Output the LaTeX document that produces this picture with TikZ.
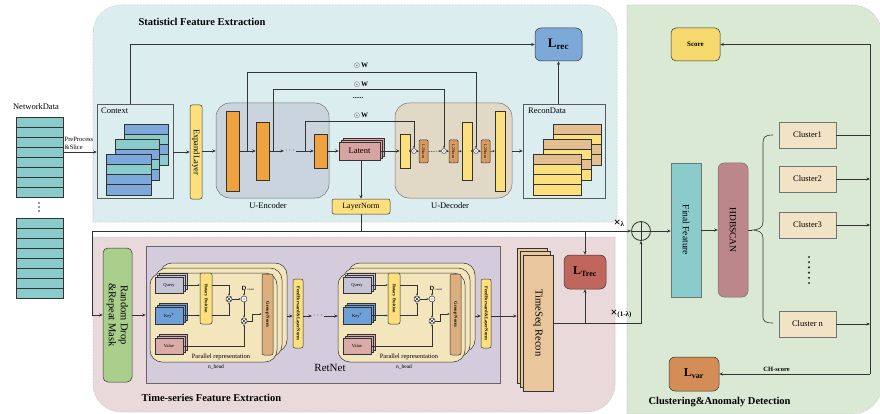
\documentclass[tikz,border=0pt]{standalone}
\usepackage{fontspec}
\setmainfont{Liberation Serif}
\usetikzlibrary{arrows.meta,calc}
\definecolor{topc}{HTML}{DCEDEF}
\definecolor{botc}{HTML}{EAD9DA}
\definecolor{rightc}{HTML}{DAE9D4}
\definecolor{encc}{HTML}{C9D4DF}
\definecolor{decc}{HTML}{E1D9C5}
\definecolor{orng}{HTML}{F0A23E}
\definecolor{yel}{HTML}{FCE07E}
\definecolor{teal1}{HTML}{8ACBCB}
\definecolor{cblue}{HTML}{7CA8DA}
\definecolor{tanc}{HTML}{E3BE90}
\definecolor{latc}{HTML}{D8A4A1}
\definecolor{retc}{HTML}{D4CBDD}
\definecolor{pcard}{HTML}{F3E5BC}
\definecolor{qc}{HTML}{C8C4D8}
\definecolor{kc}{HTML}{6E9FD6}
\definecolor{vc}{HTML}{D9ABA9}
\definecolor{gnc}{HTML}{DDAF7E}
\definecolor{l2c}{HTML}{D89A60}
\definecolor{tsc}{HTML}{EAC69D}
\definecolor{ltc}{HTML}{C1665C}
\definecolor{lrecc}{HTML}{7DA9D9}
\definecolor{scc}{HTML}{F6D96D}
\definecolor{lvc}{HTML}{D48D56}
\definecolor{hdbc}{HTML}{BC878B}
\definecolor{clc}{HTML}{F3E3C6}
\definecolor{grn}{HTML}{AACF8C}
\definecolor{lc}{HTML}{333333}
\newcommand\myfs[2]{\fontsize{#1}{#2}\selectfont}
\newcommand\mybx[7]{\node[#2, minimum width={(#5)-(#3)}, minimum height={(#6)-(#4)}] (#1) at ({((#3)+(#5))/2},{((#4)+(#6))/2}) {#7};}
\newcommand\stackcard[4]{\foreach \clr [count=\k from 0] in {#4} {\draw[rowbox, fill=\clr] (#1,{#2+\k*10.25}) rectangle ({#1+#3},{#2+(\k+1)*10.25});}}
\newcommand\otim[3]{\node[opc, minimum size=6pt] (#1) at (#2,#3) {}; \draw[wires] (#1.north east) -- (#1.south west) (#1.north west) -- (#1.south east);}
\newcommand\odt[4]{\node[opc, minimum size=#4pt] (#1) at (#2,#3) {}; \fill[lc] (#1.center) circle (0.6);}
\tikzset{
 box/.style={draw=lc, line width=0.5pt, inner sep=0pt},
 rowbox/.style={draw=lc, line width=0.5pt},
 arr/.style={draw=lc, line width=0.6pt, -{Stealth[length=3.5pt,width=3pt]}},
 arrs/.style={draw=lc, line width=0.45pt, -{Stealth[length=2.2pt,width=2pt]}},
 wire/.style={draw=lc, line width=0.6pt},
 wires/.style={draw=lc, line width=0.45pt},
 panel/.style={draw=black!25, dash pattern=on 0.6pt off 0.9pt, line width=0.6pt},
 opc/.style={circle, draw=lc, line width=0.45pt, fill=white, inner sep=0pt},
 rtext/.style={rotate=-90, inner sep=0pt, align=center},
}
\newcommand\pblock[2]{%
\begin{scope}[xshift=#1pt]
\mybx{pb#2}{box, fill=pcard, rounded corners=12}{160}{263}{287}{352}{}
\mybx{pm#2}{box, fill=pcard, rounded corners=12}{155}{268}{282}{357}{}
\mybx{pf#2}{box, fill=pcard, rounded corners=12}{150}{273}{277}{362}{}
\draw[box, fill=qc] (159,273) rectangle (187,289);
\draw[box, fill=qc] (157,275) rectangle (185,291);
\mybx{q#2}{box, fill=qc}{155}{277}{183}{293}{\myfs{4.5}{5}Query}
\draw[box, fill=kc] (159,303) rectangle (187,320);
\draw[box, fill=kc] (157,305) rectangle (185,322);
\mybx{k#2}{box, fill=kc}{155}{307}{183}{324}{\myfs{4.5}{5}Key\textsuperscript{T}}
\draw[box, fill=vc] (159,334) rectangle (187,350);
\draw[box, fill=vc] (157,336) rectangle (185,352);
\mybx{v#2}{box, fill=vc}{155}{338}{183}{354}{\myfs{4.5}{5}Value}
\mybx{r#2}{box, fill=yel, rounded corners=2}{200}{273}{212}{324}{}
\node[rtext, font=\bfseries\myfs{4.3}{5}] (rt#2) at (r#2.center) {Rotary Position};
\otim{m#2}{229}{299}
\odt{c#2}{244}{299}{6}
\otim{x#2}{244}{321}
\node[font=\sffamily\bfseries\myfs{6}{6}, inner sep=0pt] (d#2) at (244,288) {D};
\node[font=\myfs{2.8}{3}, anchor=west, inner sep=0pt] (ds#2) at (247,290) {causal};
\mybx{g#2}{box, fill=gnc, rounded corners=2}{262}{274}{273}{355}{}
\node[rtext, font=\bfseries\myfs{4.5}{5}] (gt#2) at (g#2.center) {Group Norm};
\mybx{f#2}{box, fill=yel, rounded corners=2}{293}{279}{303}{348}{}
\node[rtext, font=\bfseries\myfs{4.6}{5}] (ft#2) at (f#2.center) {FeedForward\&LayerNorm};
\draw[arrs] (q#2.east) -- (r#2.west |- q#2.east);
\draw[arrs] (k#2.east) -- (r#2.west |- k#2.east);
\draw[arrs] (r#2.east |- q#2.east) -| (m#2.north);
\draw[arrs] (r#2.east |- k#2.east) -| (m#2.south);
\draw[arrs] (m#2.east) -- (c#2.west);
\draw[arrs] (d#2.south) -- (c#2.north);
\draw[arrs] (c#2.south) -- (x#2.north);
\draw[arrs] (v#2.east) -| (x#2.south);
\draw[arrs] (x#2.east) -- ++(5,0) |- (g#2.west |- 0,314);
\draw[arr] (pb#2.east |- 0,316) -- (f#2.west |- 0,316);
\node[font=\myfs{6.5}{7}] (pr#2) at (221,357) {Parallel representation};
\node[font=\myfs{5.5}{6}] (nh#2) at (216,367) {n\_head};
\end{scope}}
\begin{document}
\begin{tikzpicture}[x=1pt,y=-1pt,font=\myfs{8.5}{10}]
\useasboundingbox (0,0) rectangle (880,414);
\fill[white] (0,0) rectangle (880,414);
% panels
\draw[panel, fill=topc] (93,222) -- (93,33) arc[start angle=180,end angle=270,radius=28] -- (589,5) arc[start angle=270,end angle=360,radius=28] -- (617,222) -- cycle;
\draw[panel, fill=botc] (93,237) -- (615,237) -- (615,384) arc[start angle=0,end angle=90,radius=28] -- (121,412) arc[start angle=90,end angle=180,radius=28] -- cycle;
\draw[panel, fill=rightc] (627,414) -- (627,5) -- (852,5) arc[start angle=270,end angle=360,radius=30] -- (882,384) arc[start angle=0,end angle=90,radius=30] -- cycle;
\node[font=\bfseries\myfs{10.5}{12}, anchor=west] (t1) at (135,22) {Statisticl Feature Extraction};
\node[font=\bfseries\myfs{10.5}{12}, anchor=west] (t2) at (138,398) {Time-series Feature Extraction};
\node[font=\bfseries\myfs{10.5}{12}, anchor=west] (t3) at (645,402) {Clustering\&Anomaly Detection};
% network data
\node (ndl) at (36,107) {NetworkData};
\mybx{nd1}{box, fill=teal1}{16}{117}{63}{197}{}
\foreach \k in {1,...,7} \draw[rowbox] (16,{117+10*\k}) -- (63,{117+10*\k});
\foreach \k in {0,1,2} \fill[lc] (39,{203+4*\k}) circle (0.9);
\mybx{nd2}{box, fill=teal1}{16}{218}{63}{298}{}
\foreach \k in {1,...,7} \draw[rowbox] (16,{218+10*\k}) -- (63,{218+10*\k});
% context
\mybx{ctx}{box, draw=black!65, fill=none}{97}{104}{173}{198}{}
\node[anchor=north west, inner sep=0pt] (ctxl) at (101,108) {Context};
\stackcard{124}{124}{44}{cblue,teal1,cblue,teal1}
\stackcard{115}{139}{44}{teal1,cblue,teal1,cblue}
\stackcard{106}{154}{45}{cblue,teal1,cblue,cblue}
\draw[arr] (nd1.east |- 0,152) -- (ctx.west |- 0,152);
\node[font=\myfs{6.5}{7.5}, align=left, anchor=south west, inner sep=0.5pt] (pp) at (64,150) {PreProcess\\\&Slice};
% expand layer
\mybx{exp}{box, fill=yel, rounded corners=2}{190}{105}{202}{199}{}
\node[rtext, font=\myfs{8.5}{9}] (expt) at (exp.center) {ExpandLayer};
\draw[arr] (ctx.east |- 0,152) -- (exp.west |- 0,152);
% encoder
\mybx{enc}{box, draw=black!55, fill=encc, rounded corners=14}{216}{103}{329}{198}{}
\node (encl) at (268,206) {U-Encoder};
\draw[arr] (exp.east |- 0,151) -- (enc.west |- 0,151);
\mybx{e1}{box, fill=orng}{226}{111}{239}{191}{}
\mybx{e2}{box, fill=orng}{256}{122}{269}{180}{}
\node[inner sep=1pt] (edots) at (290,151) {$\cdots$};
\mybx{e3}{box, fill=orng}{314}{134}{327}{168}{}
\draw[arr] (e1.east) -- (e2.west);
\draw[arr] (e2.east) -- (edots.west);
\draw[arr] (edots.east) -- (e3.west);
% latent
\draw[box, fill=latc] (343,138) rectangle (384,156);
\draw[box, fill=latc] (341,140) rectangle (382,158);
\mybx{latf}{box, fill=latc}{339}{142}{380}{160}{Latent}
\draw[arr] (e3.east) -- (latf.west);
% layernorm
\mybx{ln}{box, fill=yel, rounded corners=2}{332}{199}{390}{214}{\myfs{8}{9}LayerNorm}
\draw[arr] (ln.north |- latf.south) -- (ln.north);
% decoder
\mybx{dec}{box, draw=black!55, fill=decc, rounded corners=14}{395}{103}{512}{198}{}
\node (decl) at (450,206) {U-Decoder};
\mybx{d1}{box, fill=yel}{400}{134}{410}{168}{}
\odt{o1}{414}{151}{5}
\mybx{n1}{box, fill=l2c, rounded corners=1}{419}{140}{428}{163}{}
\node[rtext, font=\myfs{4}{4}] (n1t) at (n1.center) {L2Norm};
\odt{o2}{444}{151}{5}
\mybx{n2}{box, fill=l2c, rounded corners=1}{449}{140}{458}{163}{}
\node[rtext, font=\myfs{4}{4}] (n2t) at (n2.center) {L2Norm};
\mybx{d2}{box, fill=yel}{462}{122}{472}{180}{}
\odt{o3}{476}{151}{5}
\mybx{n3}{box, fill=l2c, rounded corners=1}{481}{140}{490}{163}{}
\node[rtext, font=\myfs{4}{4}] (n3t) at (n3.center) {L2Norm};
\mybx{d3}{box, fill=yel}{495}{111}{505}{191}{}
\draw[arr] (latf.east) -- (d1.west);
\draw[arrs] (d1.east) -- (o1.west);
\draw[arrs] (o1.east) -- (n1.west);
\draw[arrs, dash pattern=on 1.5pt off 1pt] (n1.east) -- (o2.west);
\draw[arrs] (o2.east) -- (n2.west);
\draw[arrs] (n2.east) -- (d2.west);
\draw[arrs] (d2.east) -- (o3.west);
\draw[arrs] (o3.east) -- (n3.west);
\draw[arrs] (n3.east) -- (d3.west);
% skip connections
\coordinate (j1) at (247,151);
\coordinate (j2) at (273,151);
\coordinate (j3) at (305,151);
\draw[arrs] (j1) -- (j1 |- 0,72) -| (o3.north);
\draw[arrs] (j2) -- (j2 |- 0,89) -| (o2.north);
\draw[arrs] (j3) -- (j3 |- 0,121) -| (o1.north);
\node[font=\myfs{7}{8}] (w1) at (361,66) {$\odot$\,\textbf{W}};
\node[font=\myfs{7}{8}] (w2) at (361,85) {$\odot$\,\textbf{W}};
\node[font=\myfs{7}{8}] (wd) at (358,98) {\textbf{......}};
\node[font=\myfs{7}{8}] (w3) at (361,116) {$\odot$\,\textbf{W}};
% recon data
\mybx{recon}{box, draw=black!65, fill=none}{523}{104}{605}{198}{}
\node[anchor=north west, inner sep=0pt] (recl) at (528,108) {ReconData};
\stackcard{553}{124}{48}{tanc,yel,tanc,tanc}
\stackcard{543}{139}{48}{tanc,yel,tanc,yel}
\stackcard{533}{154}{48}{tanc,yel,yel,yel}
\draw[arr] (dec.east |- 0,151) -- (recon.west |- 0,151);
% L_rec
\mybx{lrec}{box, fill=lrecc, rounded corners=6}{535}{28}{582}{61}{\myfs{13}{14}\textbf{L}\textsubscript{\textbf{rec}}}
\draw[arr] (ctx.north -| 130,0) |- (lrec.west);
\draw[arr] (recon.north -| lrec.south) -- (lrec.south);
% bottom panel
\mybx{rd}{box, fill=grn, rounded corners=5}{103}{248}{132}{382}{}
\node[rtext, font=\myfs{10.5}{12}] (rdt) at (rd.center) {Random Drop\\\&Repeat Mask};
\mybx{rn}{box, draw=black!60, line width=0.6pt, fill=retc}{146}{246}{500}{383}{}
\node[font=\myfs{11}{12}] (rnl) at (330,368) {RetNet};
\draw[arr] (rd.east) -- (rn.west |- rd.east);
\pblock{0}{a}
\pblock{188}{b}
\node[inner sep=1pt] (mdots) at (318,316) {$\cdots$};
\draw[arr] (fa.east |- 0,316) -- (mdots.west);
\draw[arr] (mdots.east) -- (pfb.west |- mdots.east);
% timeseq recon
\mybx{tsb}{box, fill=tsc}{517}{248}{547}{383}{}
\mybx{tsm}{box, fill=tsc}{520}{251.5}{550}{387}{}
\mybx{tsf}{box, fill=tsc}{523}{255}{553}{391}{}
\node[rtext, font=\myfs{10.5}{12}] (tst) at (tsf.center) {TimeSeq Recon};
\draw[arr] (fb.east |- 0,316) -- (tsb.west |- 0,316);
\mybx{ltrec}{box, fill=ltc, rounded corners=6}{564}{255}{606}{289}{\myfs{12}{13}\textbf{L}\textsubscript{\textbf{Trec}}}
% plus
\node[circle, draw=lc, line width=0.8pt, minimum size=19pt, inner sep=0pt] (plus) at (641,231) {};
\draw[wire] (plus.north) -- (plus.south) (plus.west) -- (plus.east);
% layernorm hub
\coordinate (hub) at (ln.south |- 0,231);
\coordinate (lft) at (92,231);
\draw[wire] (ln.south) -- (hub);
\draw[arr] (hub) -- (lft) |- (rd.west);
\draw[arr] (hub) -- (plus.west);
\draw[arr] (ltrec.north |- hub) -- (ltrec.north);
\draw[arr] (tsf.east) -| (plus.south);
\draw[arr] (ltrec.south |- tsf.east) -- (ltrec.south);
\node[font=\bfseries\myfs{12}{12}, inner sep=0pt] (lam1) at (619,223.5) {×{\myfs{7}{8}λ}};
\node[font=\bfseries\myfs{12}{12}, inner sep=0pt] (lam2) at (621,314) {×{\myfs{7}{8}(1-λ)}};
% clustering
\mybx{ff}{box, draw=black!55, fill=teal1}{671}{163}{701}{297}{}
\node[rtext, font=\myfs{9.5}{10}] (fft) at (ff.center) {Final Feature};
\mybx{hdb}{box, draw=black!55, fill=hdbc, rounded corners=6}{718}{163}{748}{297}{}
\node[rtext, font=\myfs{9.5}{10}] (hdbt) at (hdb.center) {HDBSCAN};
\draw[arr] (plus.east) -- (ff.west |- plus.east);
\draw[arr] (ff.east) -- (hdb.west);
\coordinate (bc) at (752,230);
\draw[wire] (hdb.east) -- (bc);
\draw[wire] (773,135) .. controls (765,135) and (763,137) .. (763,143) -- (763,222) .. controls (763,228) and (758,230) .. (bc) .. controls (758,230) and (763,232) .. (763,238) -- (763,317) .. controls (763,321) and (765,323) .. (773,323);
\mybx{c1}{box, draw=black!55, fill=clc}{779}{122}{836}{148}{Cluster1}
\mybx{c2}{box, draw=black!55, fill=clc}{779}{166}{836}{192}{Cluster2}
\mybx{c3}{box, draw=black!55, fill=clc}{779}{212}{836}{238}{Cluster3}
\mybx{cn}{box, draw=black!55, fill=clc}{779}{311}{836}{337}{Cluster n}
\foreach \k in {0,...,5} \fill[lc] (809,{257+5.2*\k}) circle (1.2);
\mybx{score}{box, fill=scc, rounded corners=5}{671}{28}{720}{61}{\bfseries\myfs{7}{8}Score}
\mybx{lvar}{box, fill=lvc, rounded corners=6}{669}{357}{719}{391}{\myfs{12}{13}\textbf{L}\textsubscript{\textbf{var}}}
\coordinate (bt) at (score.east -| 870,0);
\coordinate (bb) at (lvar.east -| 870,0);
\draw[wire] (c1.east) -- (c1.east -| bt);
\draw[arr] (c2.east) -- (c2.east -| bt);
\draw[arr] (c3.east) -- (c3.east -| bt);
\draw[arr] (cn.east) -- (cn.east -| bt);
\draw[arr] (bb) -- (bt) -- (score.east);
\draw[arr] (bb) -- (lvar.east) node[pos=0.62, above, font=\bfseries\myfs{6.5}{7}, inner sep=2pt] (chs) {CH-score};
\end{tikzpicture}
\end{document}
